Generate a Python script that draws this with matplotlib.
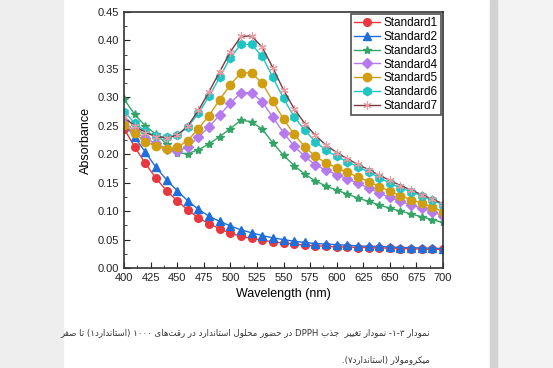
import matplotlib
matplotlib.use("Agg")
import matplotlib.pyplot as plt
from matplotlib.patches import Rectangle
from matplotlib.ticker import MultipleLocator

# wavelength grid (nm)
wl = list(range(400, 701, 10))

std1 = [0.245, 0.213, 0.184, 0.158, 0.136, 0.118, 0.102, 0.088, 0.078, 0.069, 0.061,
        0.056, 0.052, 0.049, 0.046, 0.044, 0.042, 0.040, 0.039, 0.038, 0.037,
        0.037, 0.036, 0.036, 0.035, 0.035, 0.034, 0.034, 0.033, 0.033, 0.033]
std2 = [0.255, 0.230, 0.204, 0.177, 0.155, 0.136, 0.118, 0.103, 0.091, 0.082, 0.074,
        0.067, 0.062, 0.057, 0.053, 0.050, 0.047, 0.045, 0.043, 0.042, 0.041,
        0.040, 0.039, 0.038, 0.038, 0.037, 0.036, 0.036, 0.035, 0.035, 0.034]
std3 = [0.297, 0.270, 0.250, 0.235, 0.218, 0.202, 0.201, 0.208, 0.218, 0.231, 0.245,
        0.260, 0.257, 0.244, 0.220, 0.198, 0.180, 0.165, 0.153, 0.144, 0.137,
        0.130, 0.123, 0.117, 0.111, 0.105, 0.100, 0.095, 0.090, 0.085, 0.080]
std4 = [0.258, 0.240, 0.228, 0.219, 0.210, 0.205, 0.213, 0.230, 0.248, 0.269, 0.290,
        0.308, 0.308, 0.292, 0.265, 0.238, 0.214, 0.196, 0.181, 0.172, 0.164,
        0.157, 0.149, 0.141, 0.132, 0.124, 0.117, 0.111, 0.105, 0.099, 0.091]
std5 = [0.252, 0.237, 0.222, 0.214, 0.209, 0.212, 0.224, 0.245, 0.268, 0.296, 0.322,
        0.343, 0.343, 0.325, 0.293, 0.262, 0.235, 0.213, 0.196, 0.185, 0.176,
        0.168, 0.160, 0.152, 0.143, 0.135, 0.127, 0.120, 0.114, 0.107, 0.099]
std6 = [0.275, 0.255, 0.240, 0.232, 0.230, 0.233, 0.248, 0.272, 0.302, 0.335, 0.370,
        0.393, 0.393, 0.372, 0.335, 0.298, 0.266, 0.242, 0.222, 0.207, 0.196,
        0.187, 0.178, 0.169, 0.159, 0.149, 0.141, 0.134, 0.127, 0.120, 0.111]
std7 = [0.265, 0.250, 0.238, 0.231, 0.229, 0.233, 0.250, 0.277, 0.310, 0.345, 0.380,
        0.407, 0.408, 0.388, 0.352, 0.313, 0.280, 0.254, 0.233, 0.216, 0.203,
        0.192, 0.182, 0.173, 0.163, 0.154, 0.145, 0.137, 0.129, 0.121, 0.113]

names = ["Standard1", "Standard2", "Standard3", "Standard4", "Standard5", "Standard6", "Standard7"]

caption1 = "نمودار ۳-۱- نمودار تغییر  جذب DPPH در حضور محلول استاندارد در رقت\u200cهای ۱۰۰۰ (استاندارد۱) تا صفر"
caption2 = "میکرومولار (استاندارد۷)."


# --- tiny persian shaper (matplotlib has no RTL / joining support) ---
FORMS = {  # isolated, final, initial, medial
    "ا": (0xFE8D, 0xFE8E), "آ": (0xFE81, 0xFE82),
    "ب": (0xFE8F, 0xFE90, 0xFE91, 0xFE92), "پ": (0xFB56, 0xFB57, 0xFB58, 0xFB59),
    "ت": (0xFE95, 0xFE96, 0xFE97, 0xFE98), "ث": (0xFE99, 0xFE9A, 0xFE9B, 0xFE9C),
    "ج": (0xFE9D, 0xFE9E, 0xFE9F, 0xFEA0), "چ": (0xFB7A, 0xFB7B, 0xFB7C, 0xFB7D),
    "ح": (0xFEA1, 0xFEA2, 0xFEA3, 0xFEA4), "خ": (0xFEA5, 0xFEA6, 0xFEA7, 0xFEA8),
    "د": (0xFEA9, 0xFEAA), "ذ": (0xFEAB, 0xFEAC), "ر": (0xFEAD, 0xFEAE),
    "ز": (0xFEAF, 0xFEB0), "ژ": (0xFB8A, 0xFB8B),
    "س": (0xFEB1, 0xFEB2, 0xFEB3, 0xFEB4), "ش": (0xFEB5, 0xFEB6, 0xFEB7, 0xFEB8),
    "ص": (0xFEB9, 0xFEBA, 0xFEBB, 0xFEBC), "ض": (0xFEBD, 0xFEBE, 0xFEBF, 0xFEC0),
    "ط": (0xFEC1, 0xFEC2, 0xFEC3, 0xFEC4), "ظ": (0xFEC5, 0xFEC6, 0xFEC7, 0xFEC8),
    "ع": (0xFEC9, 0xFECA, 0xFECB, 0xFECC), "غ": (0xFECD, 0xFECE, 0xFECF, 0xFED0),
    "ف": (0xFED1, 0xFED2, 0xFED3, 0xFED4), "ق": (0xFED5, 0xFED6, 0xFED7, 0xFED8),
    "ک": (0xFB8E, 0xFB8F, 0xFB90, 0xFB91), "گ": (0xFB92, 0xFB93, 0xFB94, 0xFB95),
    "ل": (0xFEDD, 0xFEDE, 0xFEDF, 0xFEE0), "م": (0xFEE1, 0xFEE2, 0xFEE3, 0xFEE4),
    "ن": (0xFEE5, 0xFEE6, 0xFEE7, 0xFEE8), "و": (0xFEED, 0xFEEE),
    "ه": (0xFEE9, 0xFEEA, 0xFEEB, 0xFEEC), "ی": (0xFBFC, 0xFBFD, 0xFBFE, 0xFBFF),
}


def shape_word(w):
    out = []
    i = 0
    chars = list(w)
    n = len(chars)
    while i < n:
        c = chars[i]
        if c not in FORMS:
            if c != "\u200c":
                out.append(c)
            i += 1
            continue
        prev = chars[i - 1] if i > 0 else None
        joins_prev = prev in FORMS and len(FORMS[prev]) == 4
        # lam-alef ligature
        if c == "ل" and i + 1 < n and chars[i + 1] == "ا":
            out.append(chr(0xFEFC if joins_prev else 0xFEFB))
            i += 2
            continue
        nxt = chars[i + 1] if i + 1 < n else None
        f = FORMS[c]
        joins_next = len(f) == 4 and nxt in FORMS
        if joins_prev and joins_next:
            out.append(chr(f[3]))
        elif joins_prev:
            out.append(chr(f[1]))
        elif joins_next:
            out.append(chr(f[2]))
        else:
            out.append(chr(f[0]))
        i += 1
    return out


def visual(text):
    # shape each token, reverse arabic letters, keep latin / digit runs LTR
    tokens = text.split(" ")
    vis = []
    for t in tokens:
        if t.isascii():
            vis.append(t)
            continue
        glyphs = shape_word(t)
        runs, cur, cur_digit = [], [], None
        for g in glyphs:
            d = g.isdigit()
            if cur and d != cur_digit:
                runs.append((cur_digit, cur))
                cur = []
            cur.append(g)
            cur_digit = d
        if cur:
            runs.append((cur_digit, cur))
        pieces = []
        for d, r in reversed(runs):
            if d:
                pieces.append("".join(r))
            else:
                s = "".join(reversed(r))
                s = s.translate(str.maketrans("()", ")("))
                pieces.append(s)
        vis.append("".join(pieces))
    return " ".join(reversed(vis))


plt.rcParams['font.family'] = ['Liberation Sans', 'DejaVu Sans']

fig = plt.figure(figsize=(5.53, 3.68), dpi=100)
# blurred page edges of the screenshot
fig.patches.append(Rectangle((0, 0), 63 / 553, 1, transform=fig.transFigure,
                             color="#eeeeee", zorder=-5))
fig.patches.append(Rectangle((490 / 553, 0), 63 / 553, 1, transform=fig.transFigure,
                             color="#f3f3f3", zorder=-5))
fig.patches.append(Rectangle((490 / 553, 0), 7 / 553, 1, transform=fig.transFigure,
                             color="#d2d2d2", zorder=-4))

ax = fig.add_axes([124 / 553, 1 - 268 / 368, 319 / 553, 256 / 368])

ax.plot(wl, std1, '-o', color="#E8383D", ms=5.5, lw=1, label=names[0])
ax.plot(wl, std2, '-^', color="#1E6FDB", ms=5.5, lw=1, label=names[1])
ax.plot(wl, std3, '-*', color="#35A468", ms=6, lw=1, label=names[2])
ax.plot(wl, std4, '-D', color="#B57AEE", ms=5, lw=1, label=names[3])
ax.plot(wl, std5, '-o', color="#D19E12", ms=6, lw=1, label=names[4])
ax.plot(wl, std6, '-h', color="#1FC4C4", ms=6, lw=1, label=names[5])
ax.plot(wl, std7, '-', color="#7A3A3E", lw=1, marker=(6, 2, 0), ms=6,
        mec="#E79AA0", mfc="#E79AA0", mew=0.8, label=names[6])

ax.set_xlim(400, 700)
ax.set_ylim(0, 0.45)
ax.xaxis.set_major_locator(MultipleLocator(25))
ax.xaxis.set_minor_locator(MultipleLocator(12.5))
ax.yaxis.set_major_locator(MultipleLocator(0.05))
ax.yaxis.set_minor_locator(MultipleLocator(0.025))
ax.yaxis.set_major_formatter(matplotlib.ticker.FormatStrFormatter("%.2f"))
ax.tick_params(which="both", direction="in", labelsize=8, colors="#222222")
ax.tick_params(which="major", length=4)
ax.tick_params(which="minor", length=2)
for s in ax.spines.values():
    s.set_linewidth(1.2)
    s.set_color("#333333")

ax.set_xlabel("Wavelength (nm)", fontsize=9, labelpad=4)
ax.set_ylabel("Absorbance", fontsize=9, labelpad=4)

leg = ax.legend(loc="upper right", fontsize=8.5, frameon=True, fancybox=False,
                edgecolor="#222222", borderaxespad=0.2, handlelength=2.2,
                labelspacing=0.15, borderpad=0.25, handletextpad=0.3)
leg.get_frame().set_linewidth(1.2)

fig.text(430 / 553, 1 - 333 / 368, visual(caption1), ha="right", va="center",
         fontsize=6.2, family=["DejaVu Sans"], color="#333333")
fig.text(430 / 553, 1 - 360 / 368, visual(caption2), ha="right", va="center",
         fontsize=6.2, family=["DejaVu Sans"], color="#333333")

fig.savefig("out.png", dpi=100)
